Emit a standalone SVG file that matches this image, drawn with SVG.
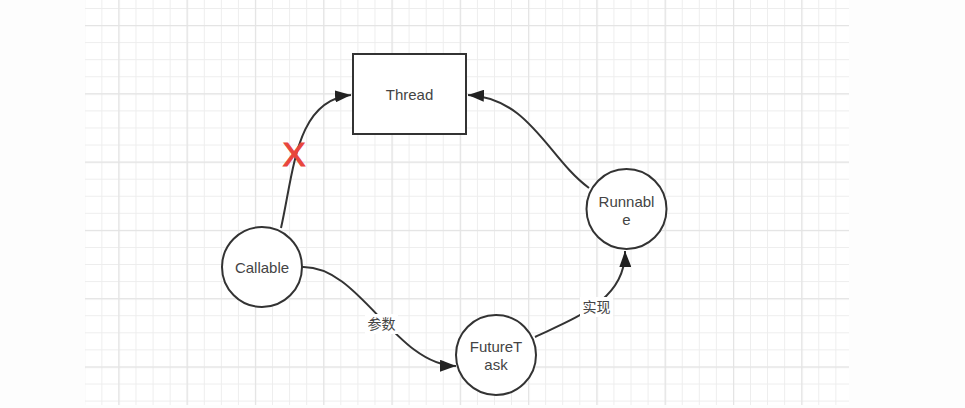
<svg xmlns="http://www.w3.org/2000/svg" width="965" height="408" viewBox="0 0 965 408">
<style>
.node{fill:#fff;stroke:#333;stroke-width:2}
.lbl{font-family:"Liberation Sans",Arial,sans-serif;font-size:15px;fill:#444;text-anchor:middle}
.edge{fill:none;stroke:#333;stroke-width:2}
.elbl{font-family:"Liberation Sans","Noto Sans CJK SC",sans-serif;font-size:14px;fill:#444;text-anchor:middle}
.minor{stroke:#ededed;stroke-width:1}
.major{stroke:#e4e4e4;stroke-width:1.5}
</style>
<defs>
<pattern id="gmin" patternUnits="userSpaceOnUse" x="84.3" y="8" width="17.07" height="17.07">
<path d="M0 0.5H17.07M0.5 0V17.07" class="minor" fill="none"/>
</pattern>
<pattern id="gmaj" patternUnits="userSpaceOnUse" x="118.3" y="25" width="68.3" height="68.3">
<path d="M0 0.5H68.3M0.5 0V68.3" class="major" fill="none"/>
</pattern>
<marker id="arr" markerUnits="userSpaceOnUse" markerWidth="18" markerHeight="12" refX="16" refY="6" orient="auto">
<path d="M0 0L16 6L0 12Z" fill="#222"/>
</marker>
</defs>
<rect width="965" height="408" fill="#fdfdfd"/>
<g id="grid">
<rect x="85" y="0" width="764" height="405" fill="#fff"/>
<rect x="85" y="0" width="764" height="405" fill="url(#gmin)"/>
<rect x="85" y="0" width="764" height="405" fill="url(#gmaj)"/>
</g>
<g id="connectors">
<path class="edge" d="M281 228C294 170 296 100 351 95" marker-end="url(#arr)"/>
<path class="edge" d="M589 188C548 158 530 98 468 95" marker-end="url(#arr)"/>
<path class="edge" d="M302 267C360 265 395 365 456 366" marker-end="url(#arr)"/>
<path class="edge" d="M535 337C575 318 626 300 625 251" marker-end="url(#arr)"/>
<rect x="365" y="314" width="33" height="20" fill="#fff"/>
<text class="elbl" x="381.5" y="329">参数</text>
<rect x="580" y="297" width="33" height="20" fill="#fff"/>
<text class="elbl" x="596.5" y="312">实现</text>
<text x="294" y="166" font-family="'Liberation Sans',Arial,sans-serif" font-size="34" fill="#e8453c" stroke="#e8453c" stroke-width="1.2" text-anchor="middle">X</text>
</g>
<g id="thread">
<rect class="node" x="353" y="54" width="113" height="80"/>
<text class="lbl" x="409.5" y="100">Thread</text>
</g>
<g id="callable">
<circle class="node" cx="262" cy="267" r="40"/>
<text class="lbl" x="262" y="273">Callable</text>
</g>
<g id="futuretask">
<circle class="node" cx="496" cy="355" r="40"/>
<text class="lbl" x="496" y="352">FutureT</text>
<text class="lbl" x="496" y="370">ask</text>
</g>
<g id="runnable">
<circle class="node" cx="626.5" cy="209" r="40"/>
<text class="lbl" x="626.5" y="207">Runnabl</text>
<text class="lbl" x="626.5" y="225">e</text>
</g>
</svg>
